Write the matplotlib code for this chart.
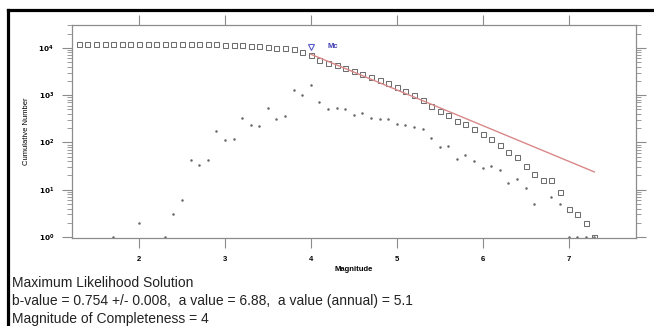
import numpy as np
import matplotlib
matplotlib.use("Agg")
import matplotlib.pyplot as plt
from matplotlib.lines import Line2D

plt.rcParams['font.family'] = ['Liberation Sans', 'DejaVu Sans']

# ---- data ----
magnitudes = np.round(np.arange(13, 74) / 10.0, 1)  # 1.3 ... 7.3 bins
counts = [0, 0, 0, 0, 1, 0, 0, 2, 0, 0, 1, 3, 6, 42, 33, 42, 171, 112, 118, 333,
          230, 222, 524, 317, 365, 1260, 985, 1630, 712, 510, 535, 500, 380, 415,
          324, 317, 310, 245, 230, 215, 190, 126, 81, 85, 44, 54, 41, 29, 31, 26,
          14, 17, 11, 5, 0, 7, 5, 1, 1, 1, 1]
cumulative = [11872, 11872, 11872, 11872, 11872, 11871, 11871, 11871, 11869, 11869,
              11869, 11868, 11865, 11859, 11817, 11784, 11742, 11571, 11459, 11341,
              11008, 10778, 10556, 10032, 9715, 9350, 8090, 7105, 5475, 4763, 4253,
              3718, 3218, 2838, 2423, 2099, 1782, 1460, 1215, 985, 770, 580, 454,
              373, 288, 244, 190, 149, 120, 89, 63, 49, 32, 21, 16, 16, 9, 4, 3, 2, 1]
b_value = 0.754
a_value = 6.88
mc = 4.0
m_max = 7.3
mc_marker_n = 10500

x_ticks = [2, 3, 4, 5, 6, 7]
y_ticks = [1, 10, 100, 1000, 10000]
y_tick_labels = [r'$\mathbf{10^0}$', r'$\mathbf{10^1}$', r'$\mathbf{10^2}$',
                 r'$\mathbf{10^3}$', r'$\mathbf{10^4}$']
info_lines = ["Maximum Likelihood Solution",
              "b-value = 0.754 +/- 0.008,  a value = 6.88,  a value (annual) = 5.1",
              "Magnitude of Completeness = 4"]

# ---- figure ----
W, H = 654, 326
fig = plt.figure(figsize=(W / 100, H / 100), dpi=100)
ax = fig.add_axes([72 / W, 1 - 238 / H, (636 - 72) / W, (238 - 25) / H])

counts_arr = np.array(counts, dtype=float)
mask = counts_arr > 0
ax.plot(magnitudes[mask], counts_arr[mask], linestyle='none', marker='o',
        markersize=1.8, color='#666666', markeredgewidth=0)
ax.plot(magnitudes, cumulative, linestyle='none', marker='s', markersize=3.6,
        markerfacecolor='none', markeredgecolor='#6e6e6e', markeredgewidth=0.75)

fit_m = np.array([mc, m_max])
ax.plot(fit_m, 10 ** (a_value - b_value * fit_m), color='#d98888', linewidth=1.0)

ax.plot([mc], [mc_marker_n], linestyle='none', marker='v', markersize=4.2,
        markerfacecolor='none', markeredgecolor='#5a5ad0', markeredgewidth=0.8)
ax.text(mc + 0.19, mc_marker_n, 'Mc', color='#3a3ab0', fontsize=5.5,
        fontweight='bold', va='center', ha='left')

ax.set_yscale('log')
ax.set_xlim(1.22, 7.785)
ax.set_ylim(0.953, 30300)
ax.set_xticks(x_ticks)
ax.set_xticklabels([str(t) for t in x_ticks], fontsize=5.5, fontweight='bold')
ax.set_yticks(y_ticks)
ax.set_yticklabels(y_tick_labels, fontsize=5.2)
ax.tick_params(axis='both', which='major', direction='out', length=7,
               width=0.8, color='#8c8c8c', pad=6)
ax.tick_params(axis='y', which='minor', direction='out', length=3.5,
               width=0.6, color='#8c8c8c')
ax.tick_params(axis='x', which='both', top=True, labeltop=False)
ax.tick_params(axis='y', which='both', right=True, labelright=False)
for s in ax.spines.values():
    s.set_color('#8c8c8c')
    s.set_linewidth(0.9)

ax.set_xlabel('Magnitude', fontsize=5.5, fontweight='bold', labelpad=2)
ax.set_ylabel('Cumulative Number', fontsize=5.5, labelpad=6)

for i, line in enumerate(info_lines):
    fig.text(12 / W, 1 - (283 + i * 18) / H, line, fontsize=10,
             color='#222222', va='center', ha='left')

# outer frame
fig.add_artist(Line2D([8 / W, 1.0], [1 - 10 / H, 1 - 10 / H],
                      transform=fig.transFigure, color='black', linewidth=2.3))
fig.add_artist(Line2D([8 / W, 8 / W], [0.0, 1 - 10 / H],
                      transform=fig.transFigure, color='black', linewidth=2.3))

fig.savefig('out.png', dpi=100)
